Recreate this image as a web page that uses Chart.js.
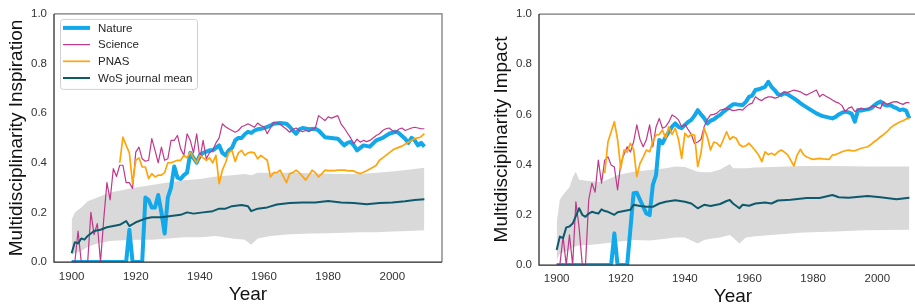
<!DOCTYPE html>
<html>
<head>
<meta charset="utf-8">
<script src="https://cdn.jsdelivr.net/npm/chart.js@4.4.1/dist/chart.umd.min.js"></script>
<style>
  html, body { margin: 0; padding: 0; background: #fff; }
  body { width: 915px; height: 308px; overflow: hidden; position: relative; }
  canvas { position: absolute; top: 0; }
  #inspChart { left: 0; }
  #impChart { left: 460px; }
</style>
</head>
<body>
<canvas id="inspChart" width="460" height="308"></canvas>
<canvas id="impChart" width="475" height="308"></canvas>
<script>
// ==============================
// DATA
// ==============================
function span(a, b) { const out = []; for (let y = a; y <= b; y++) out.push(y); return out; }

const xTickLabels = [1900, 1920, 1940, 1960, 1980, 2000];
const yTickLabels = [0, 0.2, 0.4, 0.6, 0.8, 1.0];
const legendLabels = ['Nature', 'Science', 'PNAS', 'WoS journal mean'];

// --- Multidisciplinarity Inspiration (left) ---
const inspNatureYears = [1900, 1917, 1918, 1919, 1922].concat(span(1923, 1960), [1962, 1963, 1965, 1967, 1968, 1969, 1970, 1971, 1972, 1974, 1976, 1977, 1979, 1981, 1983, 1985, 1986, 1987, 1988, 1989, 1990, 1991, 1993, 1995, 1997, 1999, 2001, 2002, 2004, 2005, 2006, 2007, 2008, 2009, 2010]);
const inspNature = [0, 0, 0.13, 0, 0,
  0.26, 0.25, 0.22, 0.22, 0.27, 0.2, 0.115, 0.26, 0.3, 0.385,
  0.34, 0.335, 0.35, 0.36, 0.44, 0.42, 0.4, 0.43, 0.44, 0.445,
  0.45, 0.45, 0.46, 0.47, 0.44, 0.43, 0.45, 0.46, 0.49, 0.5,
  0.5, 0.515, 0.525, 0.52, 0.53, 0.535, 0.537, 0.54,
  0.55, 0.557, 0.56, 0.557, 0.545, 0.53, 0.517, 0.535, 0.54, 0.535,
  0.537, 0.53, 0.503, 0.5, 0.497, 0.47, 0.48, 0.484, 0.47, 0.45,
  0.46, 0.47, 0.465, 0.49, 0.5, 0.517, 0.525, 0.52, 0.497, 0.48,
  0.5, 0.49, 0.47, 0.48, 0.465];

const inspScienceYears = span(1900, 2010);
const inspScience = [
  0, 0, 0.125, 0, 0, 0, 0.2, 0.11, 0.155, 0,
  0.17, 0.32, 0.25, 0.376, 0.345, 0.39, 0.39, 0.32, 0.32, 0.296,
  0.443, 0.463, 0.416, 0.406, 0.41, 0.497, 0.45, 0.40, 0.463, 0.41,
  0.416, 0.49, 0.49, 0.51, 0.456, 0.43, 0.517, 0.49, 0.44, 0.517,
  0.416, 0.49, 0.416, 0.44, 0.45, 0.48, 0.5, 0.557, 0.545, 0.537,
  0.53, 0.523, 0.53, 0.545, 0.55, 0.557, 0.55, 0.543, 0.56, 0.55,
  0.545, 0.517, 0.54, 0.563, 0.56, 0.555, 0.545, 0.535, 0.523, 0.535,
  0.54, 0.53, 0.525, 0.53, 0.525, 0.535, 0.54, 0.59, 0.58, 0.57,
  0.585, 0.58, 0.585, 0.59, 0.557, 0.54, 0.52, 0.5, 0.477, 0.495,
  0.483, 0.49, 0.485, 0.49, 0.5, 0.51, 0.517, 0.53, 0.537, 0.54,
  0.53, 0.523, 0.535, 0.54, 0.53, 0.535, 0.54, 0.543, 0.54, 0.537,
  0.537];

const inspPnasYears = span(1915, 2010);
const inspPnas = [
  0.40, 0.503, 0.47, 0.44, 0.316, 0.41, 0.42, 0.383, 0.383, 0.336,
  0.356, 0.343, 0.35, 0.35, 0.36, 0.40, 0.40, 0.405, 0.41, 0.41,
  0.43, 0.42, 0.443, 0.42, 0.40, 0.43, 0.42, 0.41, 0.42, 0.40,
  0.43, 0.316, 0.37, 0.40, 0.44, 0.45, 0.405, 0.44, 0.45, 0.43,
  0.44, 0.443, 0.44, 0.416, 0.43, 0.42, 0.41, 0.343, 0.36, 0.36,
  0.37, 0.345, 0.32, 0.356, 0.36, 0.37, 0.36, 0.345, 0.33, 0.35,
  0.37, 0.36, 0.343, 0.355, 0.37, 0.368, 0.368, 0.368, 0.37, 0.37,
  0.37, 0.368, 0.367, 0.367, 0.36, 0.356, 0.362, 0.368, 0.375, 0.382,
  0.39, 0.41, 0.42, 0.43, 0.44, 0.45, 0.457, 0.462, 0.467, 0.475,
  0.483, 0.49, 0.497, 0.5, 0.505, 0.517];

const inspWosYears = [1900, 1901, 1902, 1903, 1904, 1905, 1907, 1909, 1911, 1913, 1915, 1917, 1918, 1920, 1923, 1925, 1928, 1931, 1934, 1936, 1938, 1941, 1944, 1946, 1948, 1950, 1953, 1955, 1956, 1958, 1961, 1964, 1968, 1972, 1976, 1980, 1984, 1988, 1992, 1996, 2000, 2004, 2007, 2010];
const inspWos = [0.035, 0.08, 0.075, 0.095, 0.09, 0.105, 0.125, 0.13, 0.14, 0.145, 0.15, 0.165, 0.145, 0.16,
  0.175, 0.18, 0.18, 0.185, 0.19, 0.2, 0.195, 0.2, 0.205, 0.215,
  0.215, 0.225, 0.23, 0.225, 0.205, 0.215, 0.22, 0.232, 0.238, 0.24,
  0.24, 0.246, 0.24, 0.238, 0.233, 0.238, 0.24, 0.245, 0.25, 0.253];

const inspBandYears = [1900, 1901, 1903, 1905, 1908, 1912, 1916, 1920, 1925, 1930, 1935, 1940, 1945, 1950, 1954, 1956, 1958, 1962, 1968, 1975, 1980, 1985, 1990, 1995, 2000, 2005, 2010];
const inspBandUpper = [0.17, 0.2, 0.22, 0.245, 0.26, 0.28, 0.29, 0.3, 0.31, 0.32, 0.33, 0.335, 0.345, 0.35, 0.355, 0.35, 0.36, 0.36, 0.36, 0.358, 0.356, 0.355, 0.355, 0.36, 0.365, 0.372, 0.38];
const inspBandLower = [0.03, 0.035, 0.045, 0.06, 0.075, 0.085, 0.088, 0.09, 0.09, 0.095, 0.1, 0.1, 0.105, 0.095, 0.09, 0.07, 0.095, 0.105, 0.112, 0.115, 0.116, 0.118, 0.12, 0.12, 0.123, 0.125, 0.128];

// --- Multidisciplinarity Impact (right) ---
const impNatureYears = [1900, 1917, 1918, 1919, 1922].concat(span(1924, 2010));
const impNature = [0, 0, 0.126, 0, 0,
  0.286, 0.288, 0.26, 0.232, 0.205, 0.199, 0.319, 0.358, 0.498, 0.485,
  0.51, 0.53, 0.551, 0.564, 0.55, 0.545, 0.558, 0.57, 0.578,
  0.595, 0.617, 0.6, 0.585, 0.564, 0.575, 0.58, 0.59, 0.598, 0.61,
  0.62, 0.631, 0.64, 0.64, 0.638, 0.637, 0.65, 0.67, 0.675,
  0.697, 0.7, 0.705, 0.71, 0.73, 0.71, 0.697, 0.68, 0.677, 0.684,
  0.68, 0.672, 0.664, 0.655, 0.645, 0.636, 0.628, 0.62, 0.612, 0.604,
  0.598, 0.593, 0.59, 0.587, 0.584, 0.59, 0.6, 0.607, 0.611,
  0.608, 0.603, 0.571, 0.617, 0.615, 0.618, 0.62, 0.624, 0.635, 0.645,
  0.651, 0.64, 0.635, 0.637, 0.63, 0.625, 0.617, 0.62, 0.615, 0.584];

const impScienceYears = span(1900, 2010);
const impScience = [
  0, 0, 0.113, 0, 0.12, 0, 0.252, 0.15, 0,
  0, 0.259, 0.326, 0.29, 0.418, 0.326, 0.418, 0.431, 0.398, 0.39,
  0.299, 0.405, 0.44, 0.471, 0.45, 0.49, 0.558, 0.5, 0.471, 0.5,
  0.558, 0.471, 0.55, 0.584, 0.545, 0.551, 0.57, 0.598, 0.59,
  0.578, 0.551, 0.56, 0.54, 0.52, 0.484, 0.49, 0.5, 0.551, 0.58,
  0.598, 0.6, 0.605, 0.617, 0.62, 0.624, 0.62, 0.615, 0.617, 0.62,
  0.617, 0.63, 0.64, 0.645, 0.67, 0.66, 0.655, 0.665, 0.67,
  0.67, 0.665, 0.668, 0.68, 0.69, 0.688, 0.692, 0.697, 0.694, 0.69,
  0.682, 0.677, 0.684, 0.69, 0.697, 0.67, 0.68, 0.672, 0.665, 0.657,
  0.65, 0.645, 0.635, 0.611, 0.625, 0.63, 0.611, 0.62, 0.625,
  0.62, 0.62, 0.63, 0.635, 0.628, 0.624, 0.651, 0.64, 0.645, 0.65,
  0.651, 0.645, 0.64, 0.647, 0.647];

const impPnasYears = span(1915, 2010);
const impPnas = [
  0.366, 0.49, 0.531, 0.571, 0.5, 0.385, 0.458, 0.45, 0.485, 0.46,
  0.352, 0.405, 0.43, 0.458, 0.451, 0.49, 0.518, 0.52, 0.538,
  0.505, 0.551, 0.52, 0.545, 0.5, 0.425, 0.525, 0.51, 0.52, 0.518,
  0.392, 0.445, 0.545, 0.51, 0.458, 0.49, 0.485, 0.471, 0.5, 0.531,
  0.5, 0.511, 0.505, 0.48, 0.471, 0.475, 0.485, 0.47, 0.455,
  0.438, 0.412, 0.451, 0.44, 0.445, 0.438, 0.45, 0.458, 0.45, 0.44,
  0.418, 0.394, 0.438, 0.461, 0.44, 0.43, 0.425, 0.421, 0.423, 0.425,
  0.423, 0.422, 0.421, 0.438, 0.44, 0.445, 0.451, 0.455, 0.458,
  0.456, 0.455, 0.46, 0.465, 0.468, 0.471, 0.48, 0.491, 0.5, 0.511,
  0.52, 0.531, 0.545, 0.555, 0.563, 0.57, 0.575, 0.582, 0.584];

const impWosYears = [1900, 1901, 1902, 1903, 1904, 1905, 1907, 1908, 1909, 1910, 1911, 1912, 1913, 1914, 1915, 1916, 1918, 1919, 1921, 1923, 1924, 1926, 1928, 1930, 1932, 1934, 1937, 1940, 1942, 1944, 1946, 1948, 1951, 1953, 1954, 1955, 1957, 1958, 1960, 1962, 1965, 1967, 1969, 1973, 1978, 1982, 1986, 1988, 1991, 1997, 2001, 2006, 2010];
const impWos = [0.06, 0.113, 0.107, 0.15, 0.153, 0.165,
  0.226, 0.2, 0.192, 0.205, 0.212, 0.208, 0.205, 0.222, 0.215, 0.212,
  0.2, 0.21, 0.215, 0.22, 0.24, 0.235, 0.232, 0.232, 0.245, 0.252,
  0.258, 0.252, 0.245, 0.226, 0.24, 0.235, 0.243, 0.255, 0.259, 0.245,
  0.226, 0.24, 0.236, 0.245, 0.249, 0.245, 0.257, 0.26, 0.267, 0.267,
  0.279, 0.27, 0.268, 0.275, 0.27, 0.262, 0.268];

const impBandYears = [1900, 1901, 1902, 1904, 1905, 1906, 1907, 1910, 1914, 1919, 1924, 1929, 1934, 1937, 1940, 1944, 1946, 1948, 1951, 1954, 1955, 1957, 1959, 1962, 1967, 1977, 1987, 1996, 2010];
const impBandUpper = [0.166, 0.26, 0.28, 0.31, 0.35, 0.372, 0.34, 0.335, 0.33, 0.359, 0.372, 0.378, 0.385, 0.392, 0.39, 0.372, 0.37, 0.37, 0.38, 0.402, 0.385, 0.385, 0.385, 0.388, 0.39, 0.394, 0.394, 0.392, 0.392];
const impBandLower = [0.02, 0.045, 0.05, 0.06, 0.07, 0.075, 0.078, 0.08, 0.085, 0.093, 0.1, 0.098, 0.105, 0.11, 0.11, 0.086, 0.1, 0.105, 0.11, 0.12, 0.11, 0.086, 0.11, 0.115, 0.12, 0.129, 0.133, 0.138, 0.14];

// ==============================
// STYLE
// ==============================
const FONT = '"Liberation Sans", Arial, sans-serif';
const COLORS = {
  nature: '#13a8ea',
  science: '#c0388a',
  pnas: '#ffa50a',
  wos: '#0e5a6d',
  band: '#d9d9d9'
};

function pts(xs, ys) { return xs.map((x, i) => ({ x: x, y: ys[i] })); }

function line(label, xs, ys, color, width, order) {
  return {
    label: label, data: pts(xs, ys), borderColor: color, backgroundColor: color,
    borderWidth: width, fill: false, order: order, borderJoinStyle: 'round'
  };
}

// spines: darker left/bottom, lighter top/right
const spinePlugin = {
  id: 'spines',
  afterDatasetsDraw(chart) {
    const { ctx, chartArea: a } = chart;
    ctx.save();
    ctx.lineWidth = 1.25;
    ctx.strokeStyle = '#777';
    ctx.beginPath();
    ctx.moveTo(a.left, a.top); ctx.lineTo(a.right, a.top); ctx.lineTo(a.right, a.bottom);
    ctx.stroke();
    ctx.strokeStyle = '#262626';
    ctx.beginPath();
    ctx.moveTo(a.left, a.top); ctx.lineTo(a.left, a.bottom); ctx.lineTo(a.right, a.bottom);
    ctx.stroke();
    ctx.restore();
  }
};

// legend box inside the plot, upper left
const legendPlugin = {
  id: 'boxLegend',
  afterDraw(chart) {
    const { ctx, chartArea: a } = chart;
    const x0 = a.left + 6, y0 = a.top + 5, w = 137, h = 70;
    ctx.save();
    ctx.beginPath();
    ctx.roundRect(x0 + 0.5, y0 + 0.5, w, h, 3);
    ctx.fillStyle = 'rgba(255,255,255,0.85)';
    ctx.fill();
    ctx.strokeStyle = '#d0d0d0';
    ctx.lineWidth = 1;
    ctx.stroke();
    ctx.font = '11.5px ' + FONT;
    ctx.textBaseline = 'middle';
    legendLabels.forEach((name, i) => {
      const ds = chart.data.datasets.find(d => d.label === name);
      const y = y0 + 9 + i * 16.7;
      ctx.strokeStyle = ds.borderColor;
      ctx.lineWidth = ds.borderWidth;
      ctx.lineCap = 'butt';
      ctx.beginPath();
      ctx.moveTo(x0 + 3, y); ctx.lineTo(x0 + 30, y);
      ctx.stroke();
      ctx.fillStyle = '#262626';
      ctx.fillText(name, x0 + 38, y + 0.5);
    });
    ctx.restore();
  }
};

function makeChart(id, p) {
  const datasets = [
    { label: 'band-upper', data: pts(p.bandYears, p.bandUpper), fill: '+1', backgroundColor: COLORS.band,
      borderColor: 'rgba(0,0,0,0)', borderWidth: 0, order: 10 },
    { label: 'band-lower', data: pts(p.bandYears, p.bandLower), fill: false,
      borderColor: 'rgba(0,0,0,0)', borderWidth: 0, order: 11 },
    line('Nature', p.natureYears, p.nature, COLORS.nature, 4, 4),
    line('Science', p.scienceYears, p.science, COLORS.science, 1.2, 3),
    line('PNAS', p.pnasYears, p.pnas, COLORS.pnas, 1.7, 2),
    line('WoS journal mean', p.wosYears, p.wos, COLORS.wos, 2, 1)
  ];

  return new Chart(document.getElementById(id), {
    type: 'line',
    data: { datasets: datasets },
    plugins: p.legend ? [spinePlugin, legendPlugin] : [spinePlugin],
    options: {
      responsive: false,
      animation: false,
      layout: { padding: { top: p.padTop, right: p.padRight, left: 0, bottom: 0 } },
      elements: { point: { radius: 0 }, line: { tension: 0 } },
      plugins: { legend: { display: false }, tooltip: { enabled: false } },
      scales: {
        x: {
          type: 'linear', min: 1894.5, max: 2015.5,
          grid: { display: false, drawTicks: false },
          border: { display: false },
          ticks: { padding: p.xTickPad, maxRotation: 0, color: '#333', font: { family: FONT, size: 11.5 },
                   callback: v => String(v) },
          afterBuildTicks: s => { s.ticks = xTickLabels.map(v => ({ value: v })); },
          afterFit: s => { s.height = p.xHeight; },
          title: { display: true, text: 'Year', color: '#111', font: { family: FONT, size: 19 },
                   padding: { top: 0, bottom: p.xTitlePad } }
        },
        y: {
          type: 'linear', min: 0, max: 1,
          grid: { display: false, drawTicks: false },
          border: { display: false },
          ticks: { padding: 7, color: '#333', font: { family: FONT, size: 11.5 },
                   callback: v => v.toFixed(1) },
          afterBuildTicks: s => { s.ticks = yTickLabels.map(v => ({ value: v })); },
          afterFit: s => { s.width = p.yWidth; },
          title: { display: true, text: p.yTitle, color: '#111', font: { family: FONT, size: 19 },
                   padding: { top: p.yTitlePad, bottom: 0 } }
        }
      }
    }
  });
}

makeChart('inspChart', {
  yTitle: 'Multidisciplinarity Inspiration', legend: true,
  padTop: 13, padRight: 18, xHeight: 46, yWidth: 54,
  xTickPad: 8, xTitlePad: 1.6, yTitlePad: 5.6,
  natureYears: inspNatureYears, nature: inspNature,
  scienceYears: inspScienceYears, science: inspScience,
  pnasYears: inspPnasYears, pnas: inspPnas,
  wosYears: inspWosYears, wos: inspWos,
  bandYears: inspBandYears, bandUpper: inspBandUpper, bandLower: inspBandLower
});

// right panel is as wide as the left one; its right edge falls outside the picture
makeChart('impChart', {
  yTitle: 'Multidisciplinarity Impact', legend: false,
  padTop: 14, padRight: 8, xHeight: 43, yWidth: 79,
  xTickPad: 7, xTitlePad: 0, yTitlePad: 30.6,
  natureYears: impNatureYears, nature: impNature,
  scienceYears: impScienceYears, science: impScience,
  pnasYears: impPnasYears, pnas: impPnas,
  wosYears: impWosYears, wos: impWos,
  bandYears: impBandYears, bandUpper: impBandUpper, bandLower: impBandLower
});
</script>
</body>
</html>
